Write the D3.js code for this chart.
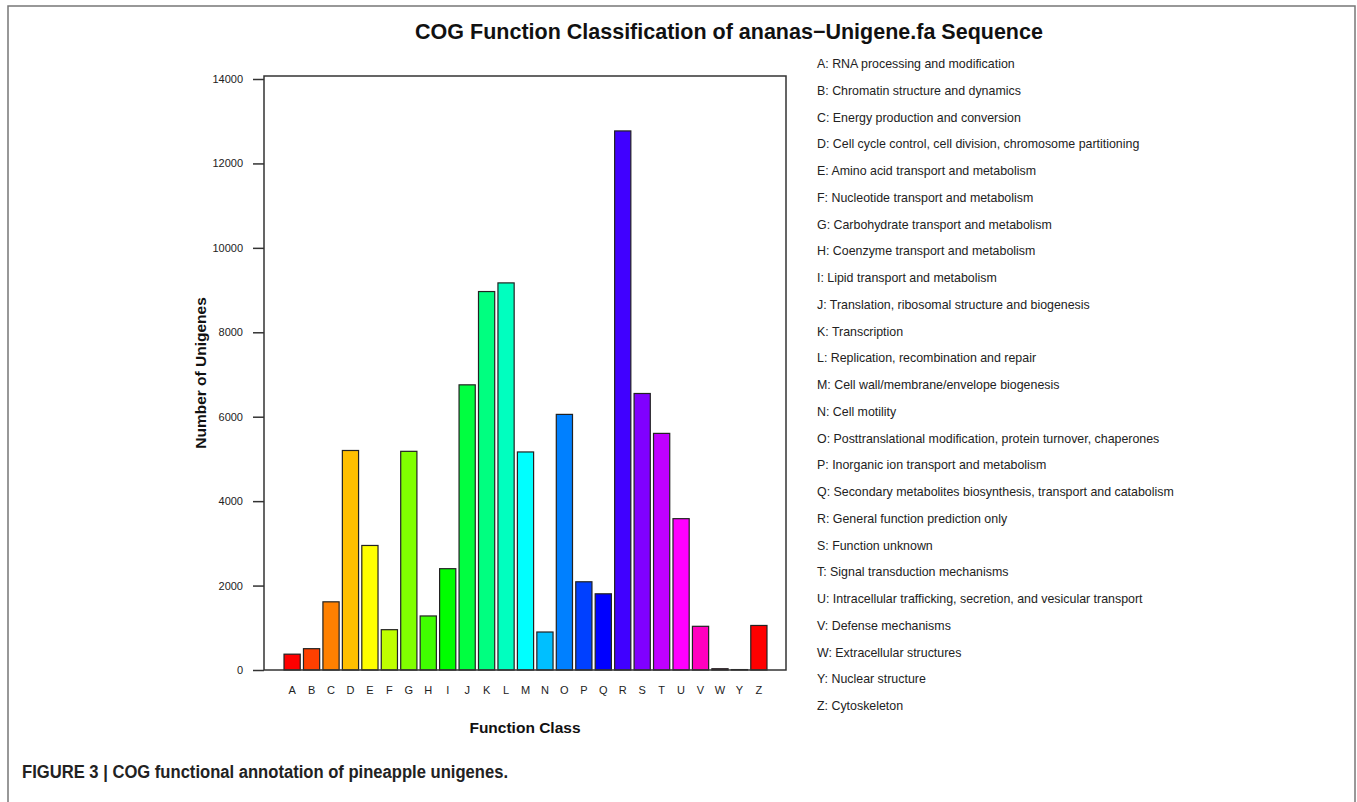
<!DOCTYPE html>
<html>
<head>
<meta charset="utf-8">
<script src="https://cdn.jsdelivr.net/npm/d3@7"></script>
<style>
  body { margin: 0; background: #fff; }
  svg text { font-family: "Liberation Sans", Arial, sans-serif; }
</style>
</head>
<body>
<script>
// COG classes and counts
var classes = ["A","B","C","D","E","F","G","H","I","J","K","L","M","N","O","P","Q","R","S","T","U","V","W","Y","Z"];
var counts = [375, 505, 1615, 5200, 2950, 955, 5180, 1280, 2400, 6755, 8965, 9170, 5165, 900, 6055, 2090, 1805, 12770, 6550, 5605, 3585, 1035, 30, 10, 1055];
var descriptions = [
    "RNA processing and modification",
    "Chromatin structure and dynamics",
    "Energy production and conversion",
    "Cell cycle control, cell division, chromosome partitioning",
    "Amino acid transport and metabolism",
    "Nucleotide transport and metabolism",
    "Carbohydrate transport and metabolism",
    "Coenzyme transport and metabolism",
    "Lipid transport and metabolism",
    "Translation, ribosomal structure and biogenesis",
    "Transcription",
    "Replication, recombination and repair",
    "Cell wall/membrane/envelope biogenesis",
    "Cell motility",
    "Posttranslational modification, protein turnover, chaperones",
    "Inorganic ion transport and metabolism",
    "Secondary metabolites biosynthesis, transport and catabolism",
    "General function prediction only",
    "Function unknown",
    "Signal transduction mechanisms",
    "Intracellular trafficking, secretion, and vesicular transport",
    "Defense mechanisms",
    "Extracellular structures",
    "Nuclear structure",
    "Cytoskeleton"
];
var yTicks = [0, 2000, 4000, 6000, 8000, 10000, 12000, 14000];

var width = 1357, height = 802;
var svg = d3.select("body").append("svg")
    .attr("width", width)
    .attr("height", height);

// outer frame (open at the bottom, cut off by the page)
svg.append("rect")
    .attr("x", 8).attr("y", 6)
    .attr("width", 1347).attr("height", 820)
    .attr("fill", "none")
    .attr("stroke", "#777")
    .attr("stroke-width", 1.5);

var box = {left: 264, right: 786, top: 76, bottom: 670};

// barplot-like layout: bar width 1, gap 0.2
var x = d3.scaleBand()
    .domain(classes)
    .range([282.4, 768.6])
    .paddingInner(1 / 6)
    .paddingOuter(1 / 12);

var y = d3.scaleLinear()
    .domain([0, 14000])
    .range([670, 79]);

// rainbow colours, 15 degrees apart
var colour = d3.scaleOrdinal()
    .domain(classes)
    .range(classes.map(function (c, i) { return d3.hsl(i * 15, 1, 0.5).formatHex(); }));

svg.append("g")
    .selectAll("rect")
    .data(classes)
    .enter()
    .append("rect")
    .attr("x", function (d) { return x(d); })
    .attr("width", x.bandwidth())
    .attr("y", function (d, i) { return y(counts[i]); })
    .attr("height", function (d, i) { return y(0) - y(counts[i]); })
    .attr("fill", function (d) { return colour(d); })
    .attr("stroke", "#222")
    .attr("stroke-width", 1.2);

// plot box
svg.append("rect")
    .attr("x", box.left).attr("y", box.top)
    .attr("width", box.right - box.left)
    .attr("height", box.bottom - box.top)
    .attr("fill", "none")
    .attr("stroke", "#333")
    .attr("stroke-width", 1.5);

// y axis
var yAxis = svg.append("g")
    .attr("transform", "translate(" + box.left + ",0)")
    .call(d3.axisLeft(y).tickValues(yTicks).tickSize(11).tickPadding(10).tickFormat(d3.format("d")));
yAxis.select(".domain").remove();
yAxis.selectAll("line").attr("stroke", "#333").attr("stroke-width", 1.5);
yAxis.selectAll("text")
    .attr("font-size", "11px")
    .attr("fill", "#222")
    .style("font-family", "Liberation Sans, Arial, sans-serif");

// x labels
var xAxis = svg.append("g")
    .attr("transform", "translate(0," + box.bottom + ")")
    .call(d3.axisBottom(x).tickSize(0).tickPadding(16));
xAxis.select(".domain").remove();
xAxis.selectAll("text")
    .attr("font-size", "11px")
    .attr("fill", "#222")
    .style("font-family", "Liberation Sans, Arial, sans-serif");

// titles
svg.append("text")
    .attr("x", 729).attr("y", 39)
    .attr("text-anchor", "middle")
    .attr("font-size", "21.5px")
    .attr("font-weight", "bold")
    .attr("fill", "#111")
    .text("COG Function Classification of ananas\u2212Unigene.fa Sequence");

svg.append("text")
    .attr("x", (box.left + box.right) / 2).attr("y", 733)
    .attr("text-anchor", "middle")
    .attr("font-size", "15.5px")
    .attr("font-weight", "bold")
    .attr("fill", "#111")
    .text("Function Class");

svg.append("text")
    .attr("transform", "translate(206,373) rotate(-90)")
    .attr("text-anchor", "middle")
    .attr("font-size", "15.5px")
    .attr("font-weight", "bold")
    .attr("fill", "#111")
    .text("Number of Unigenes");

// legend of class descriptions
var legendY = d3.scalePoint()
    .domain(classes)
    .range([68, 710]);

svg.append("g")
    .selectAll("text")
    .data(classes)
    .enter()
    .append("text")
    .attr("x", 817)
    .attr("y", function (d) { return legendY(d); })
    .attr("font-size", "12.4px")
    .attr("fill", "#222")
    .text(function (d, i) { return d + ": " + descriptions[i]; });

// caption
svg.append("text")
    .attr("x", 22).attr("y", 778)
    .attr("font-size", "18px")
    .attr("font-weight", "bold")
    .attr("fill", "#222")
    .attr("textLength", 486)
    .attr("lengthAdjust", "spacingAndGlyphs")
    .text("FIGURE 3 | COG functional annotation of pineapple unigenes.");
</script>
</body>
</html>
